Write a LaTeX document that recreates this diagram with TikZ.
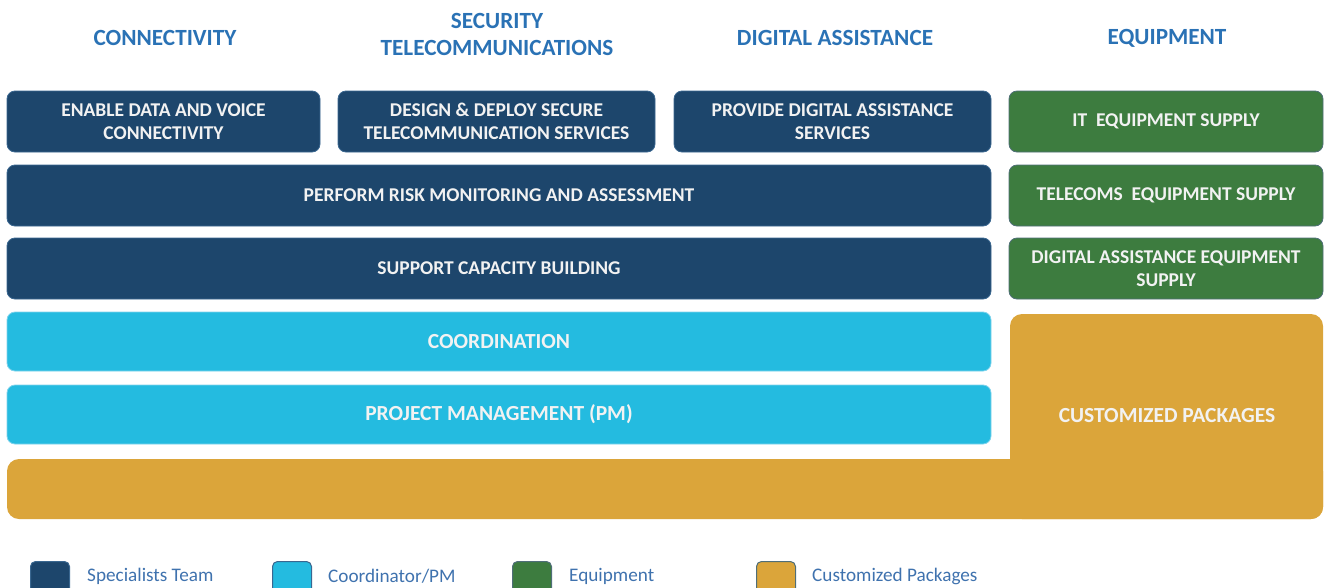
\documentclass[tikz,border=0pt]{standalone}
\usepackage{fontspec}
\setmainfont{Carlito}
\definecolor{navy}{HTML}{1D466C}
\definecolor{navyline}{HTML}{3A6790}
\definecolor{sky}{HTML}{24BBE0}
\definecolor{skyline}{HTML}{7FD3EC}
\definecolor{grn}{HTML}{3D7C3F}
\definecolor{grnline}{HTML}{4F6E78}
\definecolor{gold}{HTML}{DBA53A}
\definecolor{head}{HTML}{2A72B5}
\definecolor{legtext}{HTML}{3F72AE}
\definecolor{boxtext}{HTML}{F2F2F2}
\tikzset{
  base/.style={rounded corners=8pt, minimum height=61pt, align=center, inner sep=2pt,
    font=\fontsize{19.5}{22.5}\selectfont\bfseries, text=boxtext, line width=0.8pt},
  navybox/.style={base, fill=navy, draw=navyline},
  skybox/.style={base, fill=sky, draw=skyline, minimum height=59pt, font=\fontsize{21.5}{24}\selectfont\bfseries},
  grnbox/.style={base, fill=grn, draw=grnline},
  header/.style={font=\fontsize{23.2}{27}\selectfont\bfseries, text=head, align=center},
  legsq/.style={rounded corners=5pt, line width=1pt, minimum width=39pt, minimum height=40pt, anchor=north west, inner sep=0pt},
  legtxt/.style={font=\fontsize{19.2}{22}\selectfont, text=legtext, anchor=west, inner sep=0pt}
}
\begin{document}
\begin{tikzpicture}[x=1pt,y=-1pt]
\useasboundingbox (0,0) rectangle (1325,587);
\begin{scope}
\clip (0,0) rectangle (1325,587);
% headers
\node[header] (h1) at (165,38) {CONNECTIVITY};
\node[header] (h2) at (497,34) {SECURITY\\TELECOMMUNICATIONS};
\node[header] (h3) at (835,38) {DIGITAL ASSISTANCE};
\node[header] (h4) at (1167,38) {EQUIPMENT};
% row 1
\node[navybox, minimum width=313pt] (b1) at (163.5,121.5) {ENABLE DATA AND VOICE\\CONNECTIVITY};
\node[navybox, minimum width=317pt] (b2) at (496.5,121.5) {DESIGN \& DEPLOY SECURE\\TELECOMMUNICATION SERVICES};
\node[navybox, minimum width=317pt] (b3) at (832.5,121.5) {PROVIDE DIGITAL ASSISTANCE\\SERVICES};
\node[grnbox, minimum width=314pt] (g1) at (1166,121.5) {IT\ \ EQUIPMENT SUPPLY};
% row 2,3
\node[navybox, minimum width=984pt] (risk) at (499,195.5) {PERFORM RISK MONITORING AND ASSESSMENT};
\node[grnbox, minimum width=314pt] (g2) at (1166,195.5) {TELECOMS\ \ EQUIPMENT SUPPLY};
\node[navybox, minimum width=984pt] (cap) at (499,268.5) {SUPPORT CAPACITY BUILDING};
\node[grnbox, minimum width=314pt] (g3) at (1166,268.5) {DIGITAL ASSISTANCE EQUIPMENT\\SUPPLY};
% coordination
\node[skybox, minimum width=984pt] (coord) at (499,341.5) {COORDINATION};
\node[skybox, minimum width=984pt] (pm) at (499,414.5) {PROJECT MANAGEMENT (PM)};
% customized packages (L-shape)
\fill[gold, rounded corners=12pt] (7,459) rectangle (1323,519);
\fill[gold, rounded corners=12pt] (1010,314) rectangle (1323,519);
\node[font=\fontsize{21.5}{24}\selectfont\bfseries, text=boxtext] (cust) at (1167,416) {CUSTOMIZED PACKAGES};
% legend
\node[legsq, fill=navy, draw=navyline] (l1) at (30,561) {};
\node[legtxt] (t1) at (87,576) {Specialists Team};
\node[legsq, fill=sky, draw=navyline] (l2) at (272,561) {};
\node[legtxt] (t2) at (328,576) {Coordinator/PM};
\node[legsq, fill=grn, draw=grnline] (l3) at (512,561) {};
\node[legtxt] (t3) at (569,576) {Equipment};
\node[legsq, fill=gold, draw=grnline] (l4) at (756,561) {};
\node[legtxt] (t4) at (812,576) {Customized Packages};
\end{scope}
\end{tikzpicture}
\end{document}
